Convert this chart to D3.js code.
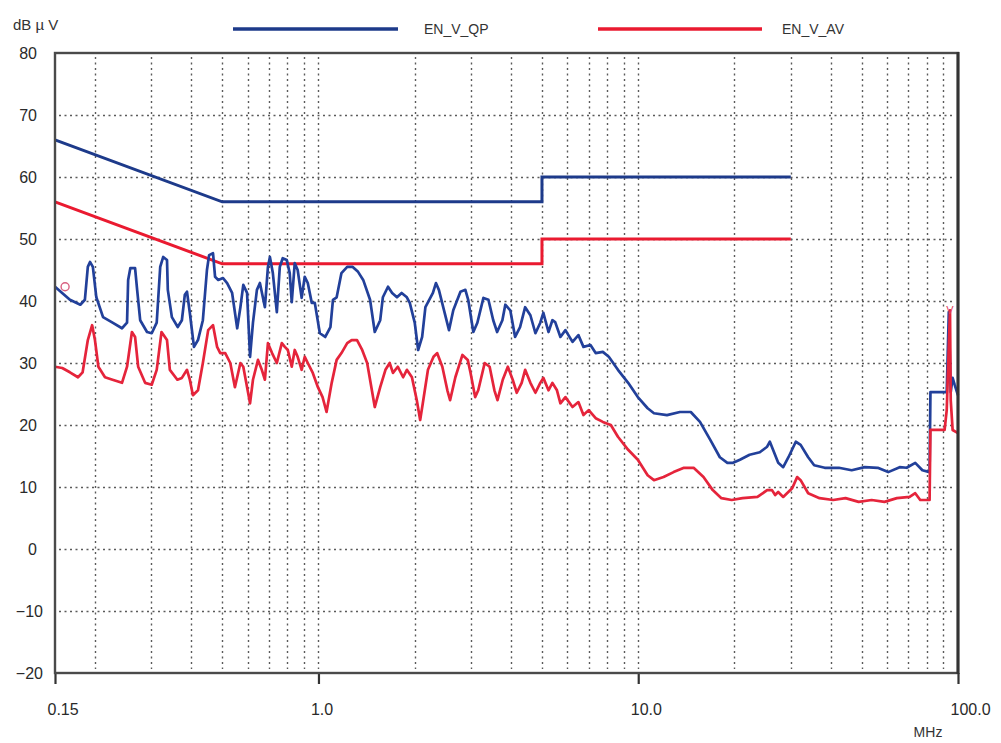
<!DOCTYPE html>
<html><head><meta charset="utf-8">
<script src="https://cdn.jsdelivr.net/npm/d3@7"></script>
<style>body{margin:0;background:#fff}svg{display:block;font-family:"Liberation Sans",Arial,sans-serif}</style>
</head><body><svg id="c" width="1001" height="743"></svg>
<script>
// ---------- data ----------
const seriesNames = ["EN_V_QP", "EN_V_AV"];
const xTickValues = [0.15, 1, 10, 100];
const xTickLabels = ["0.15", "1.0", "10.0", "100.0"];
const yTickValues = [-20, -10, 0, 10, 20, 30, 40, 50, 60, 70, 80];
const yUnit = "dB \u00b5 V";
const xUnit = "MHz";

const qpLimitFreq = [0.15, 0.5, 5, 5, 30];
const qpLimitLevel = [66, 56, 56, 60, 60];
const avLimitFreq = [0.15, 0.5, 5, 5, 30];
const avLimitLevel = [56, 46, 46, 50, 50];

const qpFreq = [0.150,0.167,0.180,0.186,0.190,0.193,0.197,0.202,0.212,0.227,
0.243,0.252,0.254,0.258,0.267,0.271,0.277,0.291,0.301,0.312,
0.320,0.327,0.336,0.338,0.348,0.363,0.374,0.382,0.388,0.396,
0.408,0.420,0.435,0.448,0.455,0.468,0.475,0.486,0.503,0.518,
0.537,0.557,0.570,0.582,0.598,0.611,0.624,0.642,0.656,0.680,
0.695,0.705,0.720,0.741,0.757,0.773,0.796,0.813,0.825,0.843,
0.861,0.886,0.906,0.926,0.953,0.974,1.01,1.05,1.09,1.11,
1.14,1.18,1.23,1.28,1.33,1.38,1.45,1.50,1.56,1.59,
1.65,1.70,1.76,1.82,1.89,1.93,2.00,2.05,2.11,2.16,
2.28,2.33,2.38,2.47,2.56,2.64,2.78,2.88,2.94,3.05,
3.14,3.28,3.40,3.52,3.62,3.76,3.84,3.98,4.12,4.27,
4.43,4.60,4.77,4.94,5.05,5.24,5.39,5.50,5.71,5.92,
6.23,6.50,6.74,7.09,7.36,7.75,8.09,8.64,9.30,9.97,
10.7,11.2,12.3,13.5,14.6,15.6,16.8,18.0,19.0,19.8,
20.8,22.3,24.0,25.3,25.8,26.4,27.4,28.4,29.5,31.1,
32.2,34.0,35.5,38.3,42.4,46.5,51.1,56.1,60.5,65.7,
69.1,73.5,77.4,81.5,82.0,92.2,93.6,94.9,96.2,97.6,
100];
const qpLevel = [42.3,40.2,39.4,40.2,45.5,46.3,45.5,40.6,37.4,36.5,
35.6,36.5,43.4,45.3,45.3,41.8,36.9,35.0,34.8,36.5,
45.5,47.1,46.6,41.8,37.4,35.8,36.9,41.0,41.5,38.1,
32.6,33.7,36.9,45.0,47.4,47.7,43.9,43.4,43.7,42.9,
41.3,35.6,39.0,42.6,41.3,31.0,36.5,41.8,42.9,39.0,
45.5,47.1,44.5,38.2,45.5,46.9,46.6,44.5,39.8,46.1,
45.0,40.5,43.9,42.9,39.7,39.7,34.8,34.2,35.8,40.2,
40.6,44.5,45.5,45.5,44.7,43.4,40.2,35.0,36.9,40.6,
42.3,41.3,40.6,41.3,40.6,39.7,36.5,32.1,34.2,39.0,
41.3,42.9,41.8,38.5,35.3,38.5,41.5,41.8,40.2,35.0,
36.5,40.5,40.2,36.9,35.0,36.9,39.4,38.5,34.2,35.8,
39.0,37.7,34.8,36.5,38.1,35.0,36.9,36.6,34.2,35.3,
33.4,34.5,32.6,32.9,31.6,31.8,31.0,28.9,26.8,24.5,
22.7,21.9,21.6,22.1,22.1,20.5,17.6,14.8,13.9,13.9,
14.4,15.2,15.6,16.5,17.3,16.0,13.9,13.2,14.8,17.3,
16.8,14.8,13.5,13.1,13.1,12.7,13.2,13.1,12.4,13.2,
13.1,13.9,12.7,12.4,25.3,25.3,38.2,25.3,27.6,26.5,
24.8];

const avFreq = [0.150,0.158,0.167,0.177,0.183,0.190,0.196,0.200,0.205,0.215,
0.227,0.243,0.252,0.261,0.267,0.273,0.287,0.301,0.312,0.323,
0.336,0.343,0.362,0.374,0.388,0.396,0.405,0.420,0.435,0.452,
0.468,0.482,0.493,0.511,0.530,0.548,0.570,0.582,0.611,0.624,
0.647,0.665,0.680,0.695,0.716,0.741,0.768,0.785,0.802,0.825,
0.843,0.861,0.886,0.906,0.926,0.960,0.996,1.03,1.06,1.10,
1.14,1.18,1.23,1.27,1.32,1.37,1.42,1.45,1.50,1.56,
1.62,1.67,1.71,1.77,1.84,1.89,1.96,2.03,2.08,2.12,
2.20,2.29,2.35,2.44,2.53,2.58,2.68,2.82,2.93,2.99,
3.09,3.16,3.31,3.43,3.55,3.63,3.77,3.91,4.05,4.17,
4.32,4.43,4.60,4.77,4.94,5.05,5.24,5.39,5.57,5.71,
5.92,6.23,6.50,6.74,7.00,7.36,7.75,8.21,8.64,9.30,
9.97,10.7,11.2,12.0,12.9,13.9,14.9,16.0,17.1,18.2,
19.6,21.2,23.6,25.3,26.2,26.8,27.4,28.4,30.3,31.4,
32.2,34.0,36.9,40.7,44.5,48.9,53.7,58.9,64.4,70.6,
73.5,76.2,81.5,82.0,90.8,92.2,94.4,94.9,96.2,100];
const avLevel = [29.4,29.2,28.5,27.7,28.5,33.7,36.1,33.7,29.4,27.7,
27.3,26.8,29.4,35.0,34.2,29.4,26.8,26.5,28.9,35.0,
33.7,28.9,27.3,27.6,28.9,27.3,24.8,25.6,30.0,35.3,
36.1,32.6,31.6,31.6,30.0,26.1,30.0,29.4,23.5,27.3,
30.5,28.9,27.3,33.2,31.6,30.0,33.2,32.6,32.1,29.4,
32.1,31.0,28.9,31.0,30.0,28.4,26.1,24.5,22.1,26.8,
30.5,31.6,33.2,33.7,33.7,32.1,30.0,27.3,22.9,26.1,
28.9,30.0,28.4,29.4,27.7,28.9,27.7,24.0,20.8,23.5,
28.9,31.0,31.6,29.4,25.6,24.0,27.7,31.3,30.5,28.4,
24.5,25.6,30.0,29.4,25.6,24.0,27.3,29.4,27.3,25.2,
26.8,28.9,26.8,25.2,26.8,27.6,25.6,26.8,25.6,23.5,
24.5,22.9,23.7,21.6,22.4,21.1,20.5,20.0,18.1,16.0,
14.4,11.9,11.1,11.6,12.4,13.1,13.1,11.6,9.5,8.2,
7.9,8.2,8.4,9.5,9.5,8.7,9.2,8.4,9.8,11.6,
11.1,9.0,8.2,7.9,8.2,7.6,7.9,7.6,8.2,8.4,
9.0,7.9,7.9,19.2,19.2,22.4,38.5,24.0,19.2,18.7];

const markerFreq = [0.159, 94.4];
const markerLevel = [42.3, 38.5];

// ---------- chart ----------
const BLUE = "#22409a", RED = "#e5243b";
const LBLUE = "#1d3a8a", LRED = "#ea1a30";
const svg = d3.select("#c");
const x = d3.scaleLog().domain([0.15, 100]).range([55, 958]);
const y = d3.scaleLinear().domain([-20, 80]).range([673, 53]);

// grid
const gridF = [];
[0.1, 1, 10].forEach(dec => { for (let m = 1; m <= 9; m++) { const f = +(dec * m).toPrecision(3); if (f > 0.15 && f < 100) gridF.push(f); } });
const grid = svg.append("g").attr("stroke", "#5a5a5a").attr("stroke-width", 1.4).attr("stroke-dasharray", "2,3.5");
grid.selectAll("line.v").data(gridF).join("line").attr("class", "v")
  .attr("x1", d => Math.round(x(d)) + 0.5).attr("x2", d => Math.round(x(d)) + 0.5)
  .attr("y1", y(80) + 4).attr("y2", y(-20) - 4);
grid.selectAll("line.h").data(yTickValues.filter(v => v > -20 && v < 80)).join("line").attr("class", "h")
  .attr("x1", x(0.15) + 4).attr("x2", x(100) - 4)
  .attr("y1", d => Math.round(y(d)) + 0.5).attr("y2", d => Math.round(y(d)) + 0.5);

// axes
const xAxis = svg.append("g").attr("transform", `translate(0,${y(-20)})`)
  .call(d3.axisBottom(x).tickValues(xTickValues).tickFormat((d, i) => xTickLabels[i]).tickSize(11));
xAxis.select(".domain").remove();
xAxis.selectAll(".tick line").attr("stroke", "#333").attr("stroke-width", 2.2);
xAxis.selectAll(".tick text").attr("y", 42).attr("dy", 0).attr("text-anchor", "start").attr("dx", -8)
  .attr("font-size", 16).attr("fill", "#2a2a2a").attr("font-family", "Liberation Sans, Arial, sans-serif");

const yAxis = svg.append("g").attr("transform", `translate(${x(0.15)},0)`)
  .call(d3.axisLeft(y).tickValues(yTickValues).tickSize(0));
yAxis.select(".domain").remove();
yAxis.selectAll(".tick text").attr("x", d => d < 0 ? -12 : -18)
  .attr("font-size", 16).attr("fill", "#2a2a2a").attr("font-family", "Liberation Sans, Arial, sans-serif");

// limit lines
const line = d3.line().x(d => x(d[0])).y(d => y(d[1]));
svg.append("path").datum(qpLimitFreq.map((f, i) => [f, qpLimitLevel[i]]))
  .attr("d", line).attr("fill", "none").attr("stroke", LBLUE).attr("stroke-width", 3);
svg.append("path").datum(avLimitFreq.map((f, i) => [f, avLimitLevel[i]]))
  .attr("d", line).attr("fill", "none").attr("stroke", LRED).attr("stroke-width", 3);

// traces
svg.append("path").datum(qpFreq.map((f, i) => [f, qpLevel[i]]))
  .attr("d", line).attr("fill", "none").attr("stroke", BLUE).attr("stroke-width", 2.7).attr("stroke-linejoin", "round");
svg.append("path").datum(avFreq.map((f, i) => [f, avLevel[i]]))
  .attr("d", line).attr("fill", "none").attr("stroke", RED).attr("stroke-width", 2.7).attr("stroke-linejoin", "round");

// markers
svg.append("circle").attr("cx", x(markerFreq[0]) + 2).attr("cy", y(markerLevel[0]))
  .attr("r", 4).attr("fill", "none").attr("stroke", "#d86080").attr("stroke-width", 1.4);
svg.append("text").attr("x", x(markerFreq[1])).attr("y", y(markerLevel[1]) + 4)
  .attr("text-anchor", "middle").attr("font-size", 11).attr("fill", "#e04060").text("V");

// frame
svg.append("rect").attr("x", x(0.15)).attr("y", y(80)).attr("width", x(100) - x(0.15)).attr("height", y(-20) - y(80))
  .attr("fill", "none").attr("stroke", "#4a4a4a").attr("stroke-width", 2.4);
svg.append("line").attr("x1", x(100)).attr("x2", x(100)).attr("y1", y(80) - 1).attr("y2", y(-20) + 1)
  .attr("stroke", "#333").attr("stroke-width", 3);

// units
svg.append("text").attr("x", 13).attr("y", 30).attr("font-size", 15).attr("fill", "#333").text(yUnit);
svg.append("text").attr("x", 928).attr("y", 737).attr("text-anchor", "middle").attr("font-size", 14).attr("fill", "#333").text(xUnit);

// legend
const legend = [[233, 398, 424, LBLUE], [598, 762, 782, LRED]];
legend.forEach((L, i) => {
  svg.append("line").attr("x1", L[0]).attr("x2", L[1]).attr("y1", 29).attr("y2", 29)
    .attr("stroke", L[3]).attr("stroke-width", 3.4);
  svg.append("text").attr("x", L[2]).attr("y", 34).attr("font-size", 14).attr("fill", "#333").text(seriesNames[i]);
});
</script></body></html>
